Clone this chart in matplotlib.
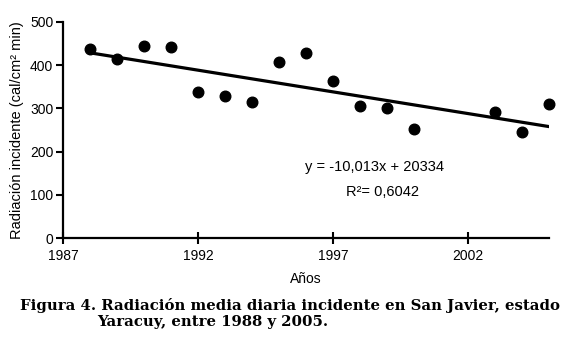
import matplotlib.pyplot as plt
import numpy as np

plt.rcParams['font.family'] = ['Liberation Sans', 'DejaVu Sans']

years = [1988, 1989, 1990, 1991, 1992, 1993, 1994, 1995, 1996, 1997,
         1998, 1999, 2000, 2003, 2004, 2005]
radiation = [438, 414, 444, 441, 337, 328, 315, 407, 427, 364,
             305, 300, 253, 291, 245, 311]
slope = -10.013
intercept = 20334

fig = plt.figure(figsize=(5.63, 3.39), dpi=100)
ax = fig.add_axes([0.112, 0.297, 0.863, 0.639])

x = np.array(years)
ax.plot(x, slope * x + intercept, color='black', lw=2.3, zorder=2)
ax.scatter(years, radiation, s=58, color='black', zorder=3, clip_on=False)

ax.set_xlim(1987, 2005)
ax.set_ylim(0, 500)
ax.set_xticks([1987, 1992, 1997, 2002])
ax.set_yticks([0, 100, 200, 300, 400, 500])
for s in ['top', 'right']:
    ax.spines[s].set_visible(False)
for s in ['left', 'bottom']:
    ax.spines[s].set_linewidth(1.6)
ax.tick_params(axis='y', direction='out', length=5, width=1.5, labelsize=10, pad=2)
ax.tick_params(axis='x', direction='inout', length=8, width=1.5, labelsize=10, pad=4)

ax.set_xlabel('Años', fontsize=10, labelpad=6)
ax.set_ylabel('Radiación incidente (cal/cm² min)', fontsize=10.5, labelpad=4)

ax.text(1998.55, 164, 'y = -10,013x + 20334', fontsize=10.5, ha='center', va='center')
ax.text(1998.85, 108, 'R²= 0,6042', fontsize=10.5, ha='center', va='center')

fig.text(0.036, 0.1, 'Figura 4. Radiación media diaria incidente en San Javier, estado',
         family='DejaVu Serif', fontweight='bold', fontsize=10.7, va='center')
fig.text(0.172, 0.05, 'Yaracuy, entre 1988 y 2005.',
         family='DejaVu Serif', fontweight='bold', fontsize=10.7, va='center')

fig.savefig('out.png', dpi=100)
